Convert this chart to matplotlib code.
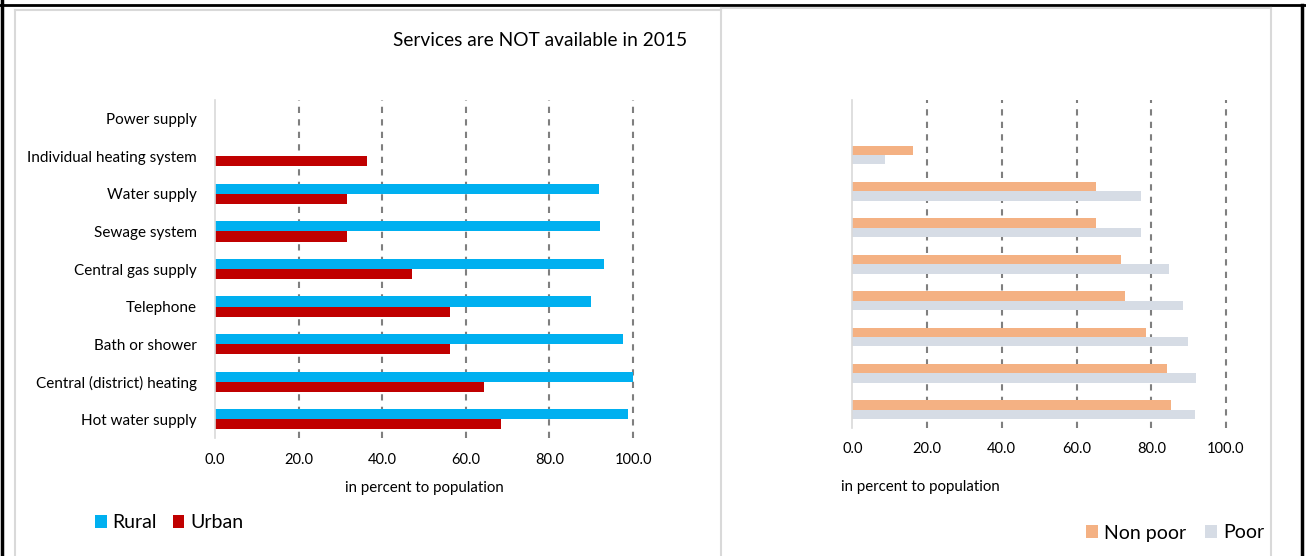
import numpy as np
import matplotlib.pyplot as plt
from matplotlib.lines import Line2D

plt.rcParams['font.family'] = ['Lato', 'DejaVu Sans']

services = ['Power supply', 'Individual heating system', 'Water supply', 'Sewage system',
            'Central gas supply', 'Telephone', 'Bath or shower', 'Central (district) heating',
            'Hot water supply']
rural = [0.0, 0.0, 91.9, 92.0, 93.1, 90.0, 97.6, 100.0, 98.8]
urban = [0.0, 36.3, 31.5, 31.6, 47.1, 56.2, 56.2, 64.4, 68.4]
non_poor = [0.0, 16.2, 65.2, 65.2, 71.8, 73.0, 78.6, 84.1, 85.3]
poor = [0.0, 8.7, 77.2, 77.2, 84.8, 88.4, 89.8, 92.0, 91.8]
ticks = [0.0, 20.0, 40.0, 60.0, 80.0, 100.0]

W, H = 1306, 556
fig = plt.figure(figsize=(W / 100, H / 100), dpi=100)


def fx(x):
    return x / W


def fy(y):
    return 1 - y / H


def line(x0, y0, x1, y1, color, lw):
    fig.add_artist(Line2D([fx(x0), fx(x1)], [fy(y0), fy(y1)], color=color, lw=lw,
                          transform=fig.transFigure))


# page / table borders
line(0, 5, W, 5, 'black', 2.0)
line(1.5, 0, 1.5, H, 'black', 2.5)
line(1302, 5, 1302, H, 'black', 2.5)
# chart frames
line(15, 10, 721, 10, '#d9d9d9', 1.5)
line(15, 10, 15, H, '#d9d9d9', 1.5)
line(721, 8, 721, H, '#d9d9d9', 1.5)
line(721, 8, 1271, 8, '#d9d9d9', 1.5)
line(1271, 8, 1271, H, '#d9d9d9', 1.5)

y = np.arange(len(services))


def style(ax, pad):
    ax.set_xlim(0, 100)
    ax.set_ylim(len(services) - 0.5, -0.5)
    for s in ['top', 'right', 'bottom']:
        ax.spines[s].set_visible(False)
    ax.spines['left'].set_color('#d9d9d9')
    ax.spines['left'].set_linewidth(1.2)
    ax.set_xticks(ticks)
    ax.set_xticklabels(['%.1f' % t for t in ticks], fontsize=10.5)
    ax.tick_params(axis='x', length=0, pad=pad)
    ax.tick_params(axis='y', length=0, pad=13)
    for t in ticks[1:]:
        ax.axvline(t, color='#7f7f7f', lw=1.5, linestyle=(0, (3, 3)), zorder=0, clip_on=False)


# left chart
ax1 = fig.add_axes([fx(215), fy(438), fx(633 - 215), (438 - 100) / H])
h1 = 0.27
b1 = ax1.barh(y - h1 / 2, rural, height=h1, color='#00b0f0', label='Rural')
b2 = ax1.barh(y + h1 / 2, urban, height=h1, color='#c00000', label='Urban')
style(ax1, 11)
ax1.set_yticks(y)
ax1.set_yticklabels(services, fontsize=11)
fig.text(fx(424), fy(488), 'in percent to population', ha='center', va='center', fontsize=10.8)
fig.text(fx(540), fy(40), 'Services are NOT available in 2015', ha='center', va='center',
         fontsize=13.8)
fig.legend(handles=[b1, b2], loc='center left', bbox_to_anchor=(fx(95), fy(523)), ncol=2,
           frameon=False, fontsize=14, handlelength=0.6, handleheight=0.6,
           handletextpad=0.3, columnspacing=0.8, borderaxespad=0, borderpad=0)

# right chart
ax2 = fig.add_axes([fx(852.3), fy(428), fx(1226 - 852.3), (428 - 100.4) / H])
h2 = 0.26
b3 = ax2.barh(y - h2 / 2, non_poor, height=h2, color='#f4b183', label='Non poor')
b4 = ax2.barh(y + h2 / 2, poor, height=h2, color='#d6dce5', label='Poor')
style(ax2, 10)
ax2.set_yticks(y)
ax2.set_yticklabels([])
fig.text(fx(841), fy(487), 'in percent to population', ha='left', va='center', fontsize=10.8)
fig.legend(handles=[b3, b4], loc='center right', bbox_to_anchor=(fx(1264), fy(533)), ncol=2,
           frameon=False, fontsize=14, handlelength=0.6, handleheight=0.6,
           handletextpad=0.3, columnspacing=1.0, borderaxespad=0, borderpad=0)

fig.savefig('out.png', dpi=100)
